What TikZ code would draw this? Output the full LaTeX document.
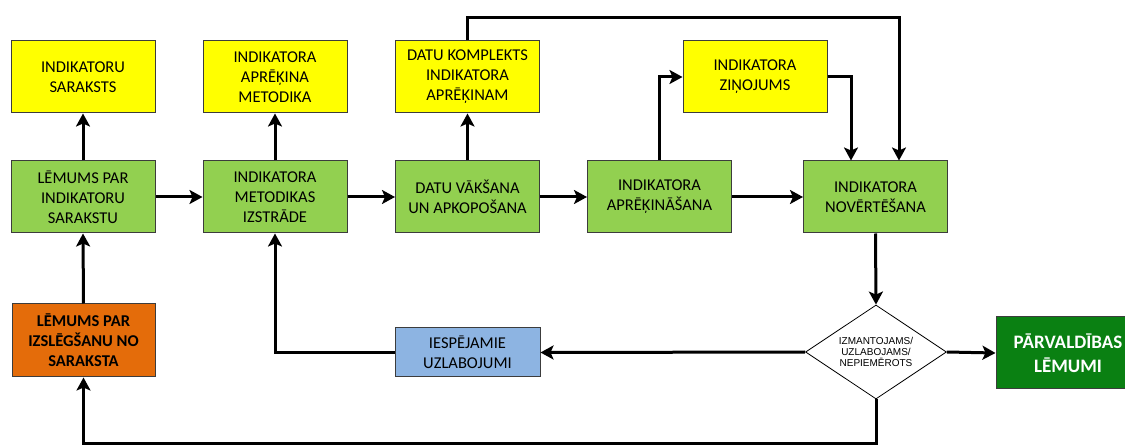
\documentclass[tikz,border=0pt]{standalone}
\usepackage{fontspec}
\setmainfont{Carlito}
\newfontfamily\arialfont{Liberation Sans}
\usetikzlibrary{arrows.meta,shapes.geometric,calc}

\definecolor{boxyellow}{RGB}{255,255,0}
\definecolor{boxgreen}{RGB}{146,208,80}
\definecolor{boxorange}{RGB}{228,108,10}
\definecolor{boxblue}{RGB}{141,180,226}
\definecolor{boxdark}{RGB}{10,128,18}
\definecolor{edgegray}{RGB}{60,60,60}

\tikzset{
  box/.style={rectangle, draw=edgegray, line width=1pt, inner sep=0pt,
    minimum width=144pt, minimum height=72pt, align=center,
    font=\fontsize{16.5}{20}\selectfont},
  yellowbox/.style={box, fill=boxyellow},
  greenbox/.style={box, fill=boxgreen},
  orangebox/.style={box, fill=boxorange, minimum width=143pt, minimum height=73pt,
    font=\fontsize{16.5}{20}\selectfont\bfseries},
  bluebox/.style={box, fill=boxblue, minimum width=145pt, minimum height=49pt},
  darkbox/.style={box, fill=boxdark, text=white,
    font=\fontsize{19}{24}\selectfont\bfseries},
  decision/.style={diamond, draw=black, line width=0.8pt, fill=white, inner sep=0pt,
    minimum width=141pt, minimum height=94pt},
  decisiontext/.style={align=center, inner sep=0pt,
    font=\arialfont\fontsize{10}{11}\selectfont},
  flow/.style={line width=3pt, -{Stealth[length=13pt,width=14pt,inset=3pt]}},
  flowline/.style={line width=3pt},
}

\begin{document}
\begin{tikzpicture}[x=1pt,y=-1pt]
\useasboundingbox (0,0) rectangle (1125,446);

% top row: outputs
\node[yellowbox] (A1) at (83,77)    {INDIKATORU\\SARAKSTS};
\node[yellowbox] (A2) at (275,77)   {INDIKATORA\\APRĒĶINA\\METODIKA};
\node[yellowbox] (A3) at (467.5,77) {DATU KOMPLEKTS\\INDIKATORA\\APRĒĶINAM};
\node[yellowbox] (A4) at (755,77)   {INDIKATORA\\ZIŅOJUMS};

% middle row: process steps
\node[greenbox] (G1) at (83,197)    {LĒMUMS PAR\\INDIKATORU\\SARAKSTU};
\node[greenbox] (G2) at (275,197)   {INDIKATORA\\METODIKAS\\IZSTRĀDE};
\node[greenbox] (G3) at (467.5,197) {DATU VĀKŠANA\\UN APKOPOŠANA};
\node[greenbox] (G4) at (659.5,197) {INDIKATORA\\APRĒĶINĀŠANA};
\node[greenbox] (G5) at (875.5,197) {INDIKATORA\\NOVĒRTĒŠANA};

% bottom row
\node[orangebox] (O) at (83.5,340.5) {LĒMUMS PAR\\IZSLĒGŠANU NO\\SARAKSTA};
\node[bluebox] (B) at (467.5,352.5) {IESPĒJAMIE\\UZLABOJUMI};
\node[decision] (D) at (876,352) {};
\node[decisiontext] (Dtxt) at (D.center) {IZMANTOJAMS/\\UZLABOJAMS/\\NEPIEMĒROTS};
\node[darkbox] (P) at (1068,353) {PĀRVALDĪBAS\\LĒMUMI};

% helper points for routed connectors
\coordinate (Tleft)  at ($(G5.north)+(-24.5,0)$);
\coordinate (Tright) at ($(G5.north)+(23.5,0)$);
\coordinate (topline) at (467.5,18);
\coordinate (bottomline) at (876,443);

% connectors
\draw[flow] (G1.north) -- (A1.south);
\draw[flow] (G2.north) -- (A2.south);
\draw[flow] (G3.north) -- (A3.south);

\draw[flow] (G1.east) -- (G2.west);
\draw[flow] (G2.east) -- (G3.west);
\draw[flow] (G3.east) -- (G4.west);
\draw[flow] (G4.east) -- (G5.west);

\draw[flow] (G4.north) |- (A4.west);
\draw[flow] (A4.east) -| (Tleft);
\draw[flow] (A3.north) -- (topline) -| (Tright);

\draw[flow] (G5.south) -- (D.north);
\draw[flow] (D.west) -- (B.east);
\draw[flow] (B.west) -| (G2.south);
\draw[flow] (D.east) -- (P.west);
\draw[flow] (D.south) -- (bottomline) -| (O.south);
\draw[flow] (O.north) -- (G1.south);
\end{tikzpicture}
\end{document}
